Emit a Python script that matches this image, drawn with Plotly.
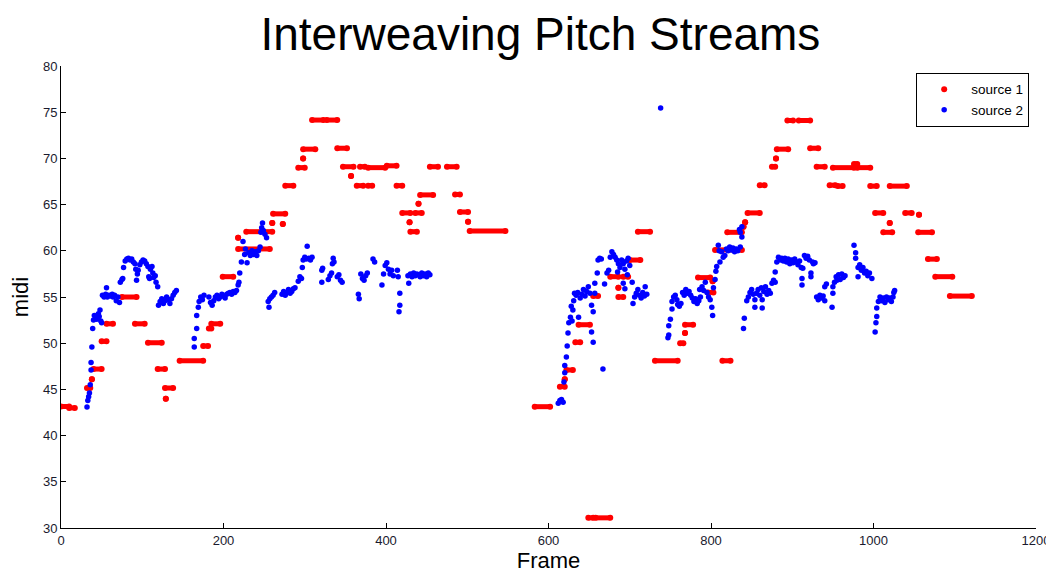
import plotly.graph_objects as go

# ---------------- data ----------------
# source 1: held notes (start frame, end frame, midi)
red_start = [0, 10, 32, 38, 40, 50, 56, 75, 91, 107, 119, 129, 128, 146, 175, 182, 185, 199, 218, 218, 228, 260, 261, 273,
             276, 292, 298, 298, 309, 327, 340, 347, 357, 364, 368, 378, 378, 401, 413, 420, 429, 430, 436, 440, 442, 454,
             475, 485, 491, 501, 503,
             583, 614, 620, 622, 633, 637, 649, 658, 655, 676, 686, 686, 692, 700, 710,
             731, 762, 768, 768, 784, 796, 802, 805, 814, 820, 840, 842, 845, 860, 875, 880, 881, 894, 908, 922, 930,
             946, 956, 950, 976, 980, 996, 1002, 1012, 1020, 1020, 1039, 1056, 1055, 1067, 1076, 1094]
red_end = [10, 17, 36, 38, 50, 56, 64, 93, 103, 124, 128, 129, 138, 175, 181, 185, 196, 212, 218, 257, 260, 260, 276, 273,
           286, 300, 298, 313, 323, 340, 352, 360, 357, 372, 374, 383, 399, 413, 420, 430, 429, 438, 444, 440, 458, 464,
           487, 491, 501, 501, 547,
           602, 620, 620, 630, 639, 651, 655, 676, 661, 686, 686, 692, 698, 713, 725,
           759, 766, 768, 778, 799, 803, 802, 838, 824, 838, 840, 842, 860, 866, 879, 880, 895, 901, 922, 932, 940,
           953, 962, 976, 980, 996, 1004, 1012, 1023, 1020, 1041, 1047, 1056, 1072, 1078, 1097, 1121]
red_midi = [43.15, 43.0, 45.15, 46.1, 47.2, 50.2, 52.1, 55.0, 52.1, 50.05, 47.2, 44.0, 45.15, 48.1, 49.7, 51.6, 52.1, 57.2,
            61.4, 60.2, 62.07, 63.0, 64.0, 62.9,
            67.05, 69.0, 70.0, 71.0, 74.15, 74.15, 71.1, 69.1, 68.1, 67.05, 69.1, 67.05, 69.0, 69.2, 67.05, 64.1, 63.1,
            62.07, 64.1, 65.1, 66.05, 69.1, 69.1, 66.1, 64.2, 63.15, 62.14,
            43.13, 45.3, 46.1, 47.1, 50.1, 52.0, 31.1, 31.1, 55.1, 57.2, 56.0, 55.0, 57.2, 59.0, 62.07,
            48.1, 50.0, 51.1, 52.0, 57.1, 55.5, 56.7, 60.1, 48.1, 62.0, 62.6, 63.1, 64.1, 67.1, 69.1, 70.0, 71.0, 74.1,
            74.1, 71.1, 69.1, 67.1, 67.0, 69.0, 69.4, 69.0, 67.0, 64.1, 62.0, 63.0, 67.0, 64.1, 63.9, 62.0, 59.1, 57.2, 55.1]

# source 2: frame-wise pitch estimates
blue_frame = [32, 33, 34, 35, 36, 37, 37, 38, 39, 40, 41, 43, 44, 45, 46, 47, 48, 49, 50, 51, 53, 55, 56, 57, 59, 61, 63,
              64, 66, 68, 70, 72, 73, 75, 76, 77, 79, 81, 83, 85, 87, 89, 91, 92, 93, 94, 95, 97, 99, 101, 103, 105, 107,
              108, 109, 110, 112, 113, 114, 116, 117, 119, 120, 122, 124, 126, 128, 130, 132, 134, 136, 138, 140, 142,
              164, 164, 167, 167, 169, 170, 172, 174, 176, 182, 184, 186, 188, 190, 192, 194, 196, 198, 200, 202, 204,
              206, 208, 210, 212, 214, 216, 218, 219, 220, 222, 224, 226, 227, 229, 231, 233, 235, 237, 239, 241, 243,
              245, 246, 247, 248, 249, 251, 253, 255, 256, 257, 259, 261, 263,
              272, 274, 276, 278, 280, 282, 284, 286, 288, 292, 294, 296, 297, 298, 300, 302, 303, 305, 307, 309, 321,
              322, 321, 329, 331, 333, 334, 335, 336, 340, 342, 344, 346, 366, 367, 369, 371, 373, 375, 377, 384, 386,
              395, 397, 399, 401, 403, 405, 407, 409, 414, 415, 417, 417, 416, 427, 428, 430, 432, 434, 436, 438, 440,
              442, 444, 446, 448, 450, 452, 454,
              612, 614, 616, 618, 619, 620, 620, 622, 623, 624, 625, 627, 629, 630, 628, 631, 632, 634, 636, 637, 639,
              641, 643, 645, 647, 649, 651, 653, 655, 653, 655, 657, 657, 660, 661, 663, 665, 667, 669, 672, 674, 676,
              678, 680, 682, 684, 686, 688, 685, 690, 692, 694, 696, 698, 700, 692, 694, 697, 703, 704, 706, 708, 710,
              712, 714, 716, 718, 719, 721,
              738,
              747, 748, 748, 750, 752, 752, 754, 756, 758, 759, 761, 763, 765, 767, 769, 771, 773, 775, 777, 779, 781,
              783, 785, 787, 786, 789, 791, 793, 795, 797, 799, 801, 802, 803, 805, 806, 807, 809, 810, 811, 813, 815,
              817, 819, 821, 823, 825, 827, 829, 831, 833, 835, 836, 838, 838, 836,
              840, 841, 844, 846, 848, 850, 852, 854, 854, 856, 858, 860, 862, 863, 863, 865, 867, 869, 871, 873, 875,
              877, 879, 879, 881, 883, 885, 887, 889, 891, 893, 895, 897, 899, 901, 903, 905, 907, 909, 911, 912, 912,
              913, 915, 917, 919, 921, 923, 923, 925, 926, 928, 930, 932, 934, 936, 938, 940, 940, 942, 949, 950, 950,
              952, 954, 955, 957, 959, 961, 963, 965, 976, 978, 978, 981, 983, 985, 987, 989, 991, 993, 995, 981, 998,
              1002, 1003, 1004, 1004, 1006, 1008, 1010, 1012, 1014, 1016, 1018, 1020, 1022, 1024, 1025, 1026]
blue_midi = [43.1, 43.8, 44.2, 44.6, 45.5, 47.1, 47.9, 49.6, 51.6, 52.5, 53.0, 52.9, 52.6, 52.8, 53.2, 52.9, 53.6, 52.4,
             52.2, 55.2, 55.0, 55.3, 56.0, 55.0, 55.2, 55.1, 55.3, 55.0, 55.2, 54.6, 55.0, 54.4, 56.6, 56.9, 57.0, 58.2,
             58.9, 59.1, 59.2, 59.0, 59.1, 58.8, 58.6, 58.0, 56.8, 57.5, 57.9, 58.5, 58.8, 59.0, 58.9, 58.6, 58.3, 57.2,
             57.0, 58.0, 58.3, 57.6, 57.1, 57.3, 56.6, 56.1, 54.1, 54.5, 54.8, 54.3, 54.6, 55.0, 54.7, 54.3, 54.8, 55.2,
             55.5, 55.7,
             49.6, 50.5, 51.6, 53.0, 53.9, 54.5, 55.0, 54.7, 55.2, 55.0, 54.4, 54.1, 54.6, 55.0, 55.2, 54.8, 55.0, 55.3,
             55.1, 54.9, 55.3, 55.4, 55.5, 55.3, 55.6, 55.5, 55.7, 56.3, 56.6, 57.6, 58.8, 61.0, 59.6, 60.2, 58.7, 59.8,
             59.5, 60.0, 59.6, 59.9, 59.5, 60.0, 60.4, 62.0, 62.5, 63.0, 62.2, 61.8, 61.4, 54.5, 53.9, 54.8, 55.0, 55.2,
             55.5,
             55.3, 55.6, 55.2, 55.5, 55.8, 55.4, 55.6, 55.9, 56.0, 56.7, 57.2, 57.0, 58.2, 59.0, 59.3, 59.1, 60.5, 59.2,
             59.0, 59.3, 57.9, 58.1, 56.6, 56.9, 57.3, 57.6, 58.6, 59.2, 58.8, 57.2, 57.4, 56.8, 56.6, 55.3, 54.8, 57.5,
             57.0, 56.8, 57.3, 57.6, 59.1, 58.8, 56.3, 57.5, 58.4, 58.7, 58.0, 57.5, 57.9, 57.3, 57.9, 57.2, 55.4, 54.1,
             53.4, 57.3, 56.5, 57.5, 57.2, 57.6, 57.3, 57.5, 57.4, 57.2, 57.6, 57.3, 57.5, 57.2, 57.6, 57.4,
             43.5, 43.8, 43.9, 43.6, 45.8, 46.8, 47.6, 48.5, 49.7, 51.1, 52.2, 52.8, 52.4, 53.6, 54.0, 54.6, 55.4, 55.2,
             55.5, 52.8, 54.9, 55.3, 55.8, 55.1, 55.6, 56.1, 55.4, 54.1, 53.4, 51.2, 50.1, 55.4, 56.5, 57.6, 59.0, 59.2,
             59.1, 47.2, 56.4, 57.6, 57.9, 59.3, 59.9, 59.6, 59.3, 59.0, 58.6, 58.2, 57.7, 59.0, 58.6, 58.0, 58.9, 59.2,
             58.4, 56.5, 55.9, 57.4, 56.6, 54.3, 55.0, 55.4, 55.8, 55.2, 54.9, 55.5, 55.1, 56.1, 55.3,
             75.45,
             50.6, 50.9, 51.9, 52.6, 53.7, 54.5, 55.0, 55.2, 54.7, 54.2, 54.0, 54.3, 55.5, 55.2, 55.8, 55.4, 55.6, 55.2,
             54.9, 54.5, 54.8, 54.3, 54.6, 55.0, 55.8, 56.1, 55.7, 56.6, 55.5, 55.0, 54.7, 53.9, 53.0, 56.0, 56.9, 57.8,
             58.3, 60.6, 60.0, 58.8, 59.9, 59.3, 59.5, 60.2, 60.0, 60.4, 60.1, 60.3, 59.9, 60.2, 60.0, 62.3, 62.0, 62.6,
             61.5, 60.4,
             51.6, 52.7, 54.6, 55.0, 55.5, 55.8, 55.3, 54.7, 53.9, 55.4, 55.8, 55.2, 56.0, 53.8, 54.7, 55.6, 56.1, 55.3,
             55.7, 55.4, 56.5, 56.8, 57.7, 56.6, 58.8, 59.3, 59.0, 59.2, 58.9, 59.2, 58.8, 59.1, 58.6, 59.0, 58.7, 59.1,
             58.8, 58.5, 58.9, 58.2, 57.0, 56.3, 58.1, 59.5, 59.2, 59.4, 59.0, 57.6, 57.2, 58.8, 58.6, 58.7, 55.0, 54.7,
             55.2, 54.9, 55.1, 54.6, 56.1, 56.4, 53.9, 55.4, 56.1, 56.6, 57.2, 56.8, 57.4, 56.9, 57.5, 57.1, 57.3, 60.6,
             59.8, 59.2, 58.2, 58.5, 57.9, 58.2, 57.6, 57.8, 57.3, 57.6, 57.2, 57.0,
             51.2, 52.2, 52.9, 53.8, 54.5, 55.0, 54.6, 54.9, 54.4, 55.0, 54.7, 54.9, 54.5, 55.0, 55.5, 55.7]

x_ticks = [0, 200, 400, 600, 800, 1000, 1200]
y_ticks = [30, 35, 40, 45, 50, 55, 60, 65, 70, 75, 80]

RED = "#FF0000"
BLUE = "#0000FF"

# segments drawn as thick lines between note start/end
seg_x, seg_y = [], []
for s, e, p in zip(red_start, red_end, red_midi):
    seg_x += [s, e, None]
    seg_y += [p, p, None]

fig = go.Figure()
fig.add_trace(go.Scatter(x=seg_x, y=seg_y, mode="lines", line=dict(color=RED, width=5),
                         showlegend=False, hoverinfo="skip", legendgroup="s1"))
fig.add_trace(go.Scatter(x=red_start + red_end, y=red_midi + red_midi, mode="markers",
                         marker=dict(color=RED, size=6, line=dict(width=0)),
                         name="source 1", legendgroup="s1"))
fig.add_trace(go.Scatter(x=blue_frame, y=blue_midi, mode="markers",
                         marker=dict(color=BLUE, size=5.5, line=dict(width=0)),
                         name="source 2"))

tick_font = dict(family="Liberation Sans Narrow, Arial Narrow, Liberation Sans, Arial", size=13, color="#1a1a2e")

# page body adds an 8px offset; the figure is sized so the plot lands where the reference has it
fig.update_layout(
    width=1046, height=566,
    margin=dict(l=53, r=18, t=58, b=46),
    paper_bgcolor="white", plot_bgcolor="white",
    title=dict(text="Interweaving Pitch Streams", x=0.509, xanchor="center", y=0.955, yanchor="middle",
               font=dict(family="Liberation Sans, Arial", size=46, color="black")),
    legend=dict(x=0.993, xanchor="right", y=0.985, yanchor="top", bgcolor="white",
                bordercolor="black", borderwidth=1, itemwidth=44,
                font=dict(family="Liberation Sans, Arial", size=13.5, color="black"),
                tracegroupgap=0),
    showlegend=True,
)
fig.update_xaxes(range=[0, 1200], tickvals=x_ticks, ticks="inside", ticklen=5, tickcolor="black",
                 showline=True, linecolor="black", linewidth=1, showgrid=False, zeroline=False,
                 tickfont=tick_font, automargin=False,
                 title=dict(text="Frame", font=dict(family="Liberation Sans, Arial", size=22, color="black"),
                            standoff=2))
fig.update_yaxes(range=[30, 80], tickvals=y_ticks, ticks="inside", ticklen=5, tickcolor="black",
                 showline=True, linecolor="black", linewidth=1, showgrid=False, zeroline=False,
                 tickfont=tick_font, automargin=False,
                 title=dict(text="midi", font=dict(family="Liberation Sans, Arial", size=22, color="black"),
                            standoff=8))

fig.write_html("out.html")
